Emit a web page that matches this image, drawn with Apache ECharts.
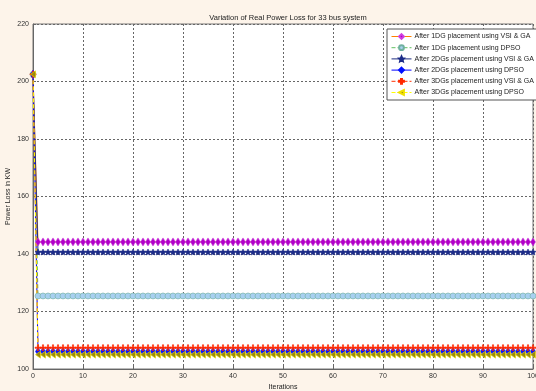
<!DOCTYPE html>
<html>
<head>
<meta charset="utf-8">
<script src="https://cdn.jsdelivr.net/npm/echarts@6/dist/echarts.min.js"></script>
<style>
  html, body { margin: 0; padding: 0; background: #fdf4ea; }
  #chart { width: 536px; height: 391px; }
</style>
</head>
<body>
<div id="chart"></div>
<script>
  // iterations 0..100 (x axis)
  const iterations = Array.from({ length: 101 }, (_, i) => i);

  const seriesNames = [
    'After 1DG placement using VSI & GA',
    'After 1DG placement using DPSO',
    'After 2DGs placement using VSI & GA',
    'After 2DGs placement using DPSO',
    'After 3DGs placement using VSI & GA',
    'After 3DGs placement using DPSO'
  ];

  // loss at iteration 0, then the settled loss for iterations 1..100 (kW)
  const startLoss = [202.5, 202.5, 202.5, 202.5, 202.5, 202.5];
  const settledLoss = [144.2, 125.4, 140.7, 106.1, 107.4, 105.0];

  const yTicks = [100, 120, 140, 160, 180, 200, 220];
  const xTicks = [0, 10, 20, 30, 40, 50, 60, 70, 80, 90, 100];

  const lossSeries = startLoss.map((s, k) => [s, ...Array(100).fill(settledLoss[k])]);

  const styles = [
    { line: '#ff8000', type: 'solid', symbol: 'diamond', size: [5, 8], fill: '#b000c8', border: '#d040e0' },
    { line: '#60c060', type: 'dashed', symbol: 'circle', size: 6, fill: '#a8d0f0', border: '#70b0a0' },
    { line: '#1c2c80', type: 'solid', symbol: 'path://M5,0L6.5,3.5L10,4L7.3,6.5L8,10L5,8.2L2,10L2.7,6.5L0,4L3.5,3.5Z', size: 6, fill: '#1c2c88', border: '#1c2c88' },
    { line: '#0000ff', type: 'solid', symbol: 'diamond', size: [5, 8], fill: '#0010ff', border: '#0010ff' },
    { line: '#ff3000', type: 'dashed', symbol: 'path://M4,0H6V4H10V6H6V10H4V6H0V4H4Z', size: 6, fill: '#ff2800', border: '#ff2800' },
    { line: '#ffff00', type: 'dashed', symbol: 'path://M0,5L10,0L10,10Z', size: [5, 7], fill: '#9a8a10', border: '#f0e000' }
  ];

  const chart = echarts.init(document.getElementById('chart'));

  const option = {
    backgroundColor: '#fdf4ea',
    animation: false,
    textStyle: { fontFamily: 'Liberation Sans, Arial, sans-serif' },
    title: {
      text: 'Variation of Real Power Loss for 33 bus system',
      left: 283,
      textAlign: 'center',
      top: 9,
      textStyle: { fontSize: 7.5, fontWeight: 'normal', color: '#222' }
    },
    legend: {
      orient: 'vertical',
      left: 387,
      top: 29,
      padding: [4, 4, 4, 4],
      itemGap: 4.2,
      itemWidth: 20,
      itemHeight: 6,
      backgroundColor: '#fff',
      borderColor: '#555',
      borderWidth: 1,
      borderRadius: 0,
      data: seriesNames,
      lineStyle: { width: 1 },
      textStyle: { fontSize: 7, color: '#222', padding: [0, 0, 0, -2] }
    },
    grid: {
      left: 33, right: 3, top: 24, bottom: 22,
      containLabel: false,
      outerBoundsMode: 'none',
      show: true,
      backgroundColor: '#fff',
      borderColor: '#777',
      borderWidth: 1
    },
    xAxis: {
      type: 'value',
      min: 0, max: 100, interval: 10,
      name: 'Iterations',
      nameLocation: 'middle',
      nameGap: 15,
      nameMoveOverlap: false,
      nameTextStyle: { fontSize: 7, color: '#222' },
      axisLine: { lineStyle: { color: '#666' } },
      axisTick: { inside: true, length: 3, lineStyle: { color: '#666' } },
      axisLabel: { fontSize: 7, color: '#333', margin: 4,
        formatter: v => xTicks.includes(v) ? String(v) : '' },
      splitLine: { show: true, lineStyle: { color: '#666', type: [2, 2], width: 1 } }
    },
    yAxis: {
      type: 'value',
      min: 100, max: 220, interval: 20,
      name: 'Power Loss in KW',
      nameLocation: 'middle',
      nameGap: 21,
      nameMoveOverlap: false,
      nameTextStyle: { fontSize: 7, color: '#222' },
      axisLine: { show: true, lineStyle: { color: '#666' } },
      axisTick: { show: true, inside: true, length: 3, lineStyle: { color: '#666' } },
      axisLabel: { fontSize: 7, color: '#333', margin: 4,
        formatter: v => yTicks.includes(v) ? String(v) : '' },
      splitLine: { show: true, lineStyle: { color: '#666', type: [2, 2], width: 1 } }
    },
    series: seriesNames.map((name, k) => ({
      name,
      type: 'line',
      data: iterations.map(i => [i, lossSeries[k][i]]),
      showAllSymbol: true,
      symbol: styles[k].symbol,
      symbolSize: styles[k].size,
      lineStyle: { color: styles[k].line, width: 1, type: styles[k].type },
      itemStyle: { color: styles[k].fill, borderColor: styles[k].border, borderWidth: 0.6 }
    }))
  };

  chart.setOption(option);
</script>
</body>
</html>
